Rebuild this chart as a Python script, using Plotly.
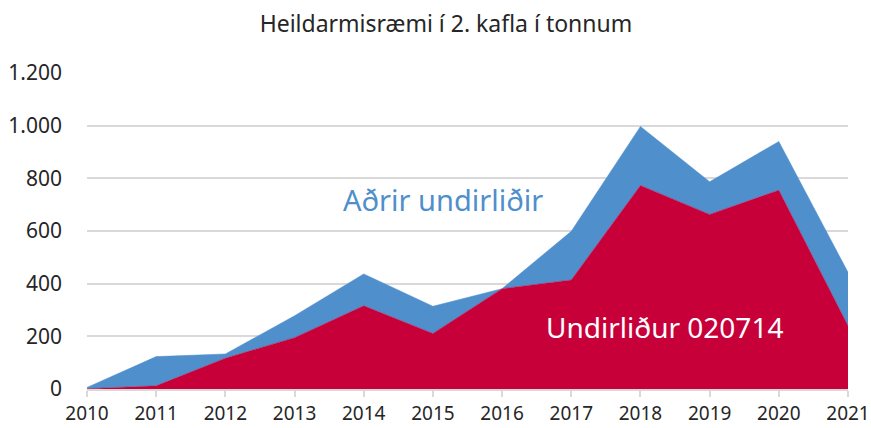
import plotly.graph_objects as go

years = [2010, 2011, 2012, 2013, 2014, 2015, 2016, 2017, 2018, 2019, 2020, 2021]
undirlidur_020714 = [1, 12, 117, 195, 316, 211, 381, 414, 773, 663, 755, 240]
adrir_undirlidir = [5, 111, 16, 83, 121, 103, 0, 185, 224, 124, 185, 203]

red = "#C8003A"
blue = "#4F8FCC"
font = "Noto Sans"

fig = go.Figure()
fig.add_trace(go.Scatter(x=years, y=undirlidur_020714, stackgroup="s", mode="lines",
                         line=dict(width=0.5, color=red), fillcolor=red,
                         name="Undirliður 020714", hoverinfo="x+y"))
fig.add_trace(go.Scatter(x=years, y=adrir_undirlidir, stackgroup="s", mode="lines",
                         line=dict(width=0.5, color=blue), fillcolor=blue,
                         name="Aðrir undirliðir", hoverinfo="x+y"))

fig.update_layout(
    width=871, height=428,
    margin=dict(l=87, r=23, t=73, b=39, autoexpand=False),
    paper_bgcolor="white", plot_bgcolor="white",
    showlegend=False,
    separators=",.",
    font=dict(family=font, color="#262626", size=20),
    title=dict(text="Heildarmisræmi í 2. kafla í tonnum", x=0.512, xanchor="center",
               y=0.944, yanchor="middle", automargin=False,
               font=dict(size=23, color="#262626")),
    xaxis=dict(range=[2010, 2021], tickmode="array", tickvals=years,
               ticktext=[str(y) for y in years], showgrid=False, automargin=False,
               showline=True, linecolor="#d9d9d9", linewidth=1.5,
               ticks="outside", ticklen=6, tickcolor="#d9d9d9", tickwidth=1.5,
               tickfont=dict(size=19), zeroline=False, ticklabeloverflow="allow"),
    yaxis=dict(range=[0, 1200], dtick=200, tickformat=",d", showgrid=True,
               gridcolor="#d9d9d9", gridwidth=1.5, zeroline=False, automargin=False,
               ticks="", tickfont=dict(size=21), ticklabelstandoff=24),
)

fig.add_annotation(x=2015.15, y=720, text="Aðrir undirliðir", showarrow=False,
                   font=dict(size=29, color=blue, family=font), xref="x", yref="y")
fig.add_annotation(x=2018.35, y=237, text="Undirliður 020714", showarrow=False,
                   font=dict(size=28, color="white", family=font), xref="x", yref="y")

fig.write_html("out.html", config={"displayModeBar": False})

with open("out.html", encoding="utf-8") as f:
    html = f.read()
html = html.replace("<head>", "<head><style>html,body{margin:0;padding:0;}</style>", 1)
with open("out.html", "w", encoding="utf-8") as f:
    f.write(html)
